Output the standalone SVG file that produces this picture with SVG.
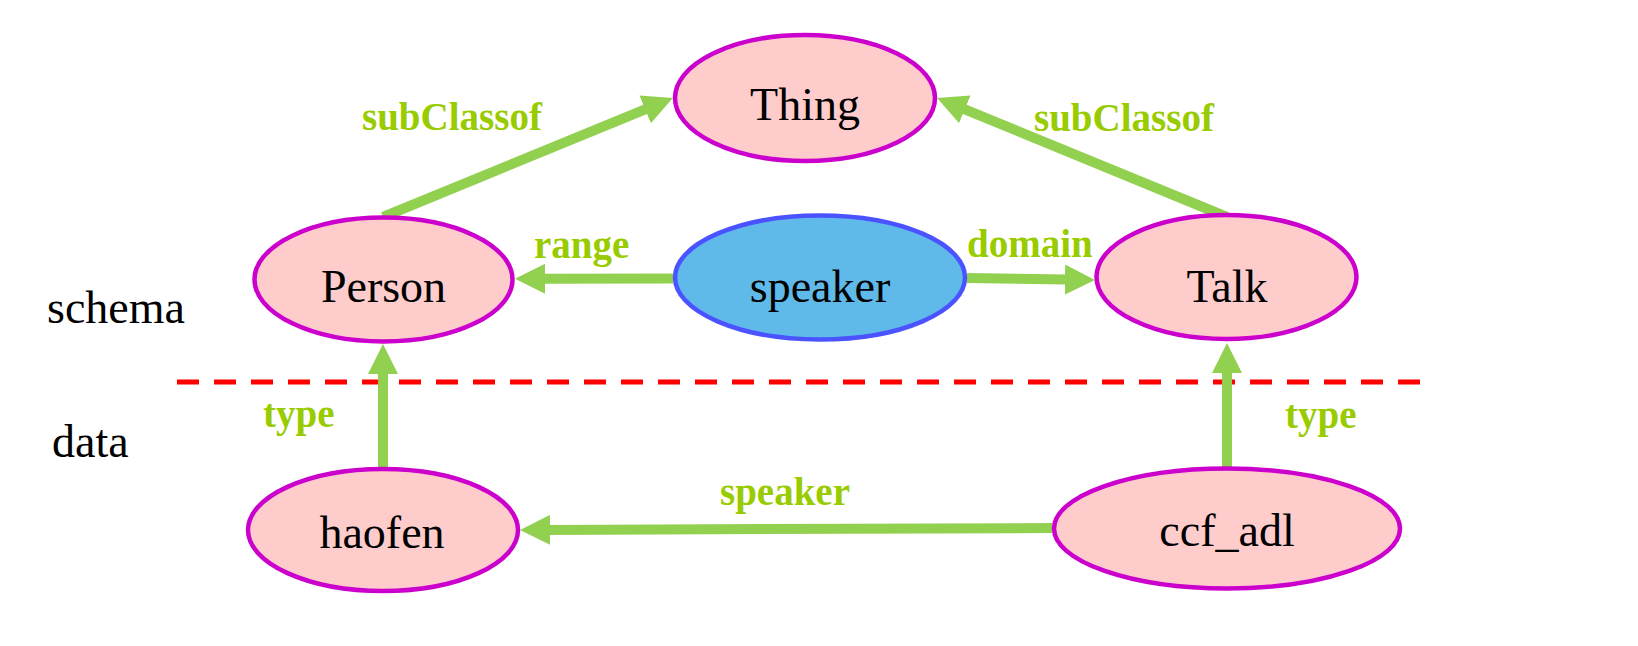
<svg xmlns="http://www.w3.org/2000/svg" width="1638" height="646" viewBox="0 0 1638 646">
<style>
.node{fill:#FFCCCC;stroke:#CC00CC;stroke-width:4.5}
.prop{fill:#5FBAEA;stroke:#4B52FF;stroke-width:4.5}
.nt{font-family:"Liberation Serif","Times New Roman",serif;font-size:46px;fill:#000;text-anchor:middle}
.side{font-family:"Liberation Serif","Times New Roman",serif;font-size:46px;fill:#000}
.lbl{font-family:"Liberation Serif","Times New Roman",serif;font-size:39px;font-weight:bold;fill:#99CC00}
.edge{stroke:#92D050;stroke-width:10;fill:none;marker-end:url(#ah)}
</style>
<defs>
<marker id="ah" markerUnits="userSpaceOnUse" markerWidth="30" markerHeight="30" refX="2" refY="15" orient="auto" viewBox="0 0 30 30">
<path d="M0,0 L30,15 L0,30 Z" fill="#92D050"/>
</marker>
</defs>
<rect width="1638" height="646" fill="#FFFFFF"/>
<line x1="177" y1="382" x2="1425" y2="382" stroke="#FF0000" stroke-width="5" stroke-dasharray="22 15"/>
<text class="side" x="47" y="323">schema</text>
<text class="side" x="52" y="457">data</text>
<g id="connectors">
<line class="edge" x1="383" y1="217" x2="647" y2="108.6"/>
<line class="edge" x1="1227" y1="217" x2="963" y2="108.6"/>
<line class="edge" x1="673" y1="278.5" x2="543" y2="278.8"/>
<line class="edge" x1="967" y1="278" x2="1067" y2="279.6"/>
<line class="edge" x1="383" y1="467" x2="383" y2="372"/>
<line class="edge" x1="1227" y1="467" x2="1227" y2="371"/>
<line class="edge" x1="1052" y1="528" x2="548" y2="529.9"/>
<text class="lbl" x="362" y="130">subClassof</text>
<text class="lbl" x="1034" y="131">subClassof</text>
<text class="lbl" x="534" y="258">range</text>
<text class="lbl" x="967" y="257">domain</text>
<text class="lbl" x="263" y="427">type</text>
<text class="lbl" x="1285" y="428">type</text>
<text class="lbl" x="720" y="505">speaker</text>
</g>
<g id="thing">
<ellipse class="node" cx="805" cy="98" rx="130" ry="63"/>
<text class="nt" x="805" y="120">Thing</text>
</g>
<g id="person">
<ellipse class="node" cx="383.5" cy="279.5" rx="129" ry="62"/>
<text class="nt" x="383.5" y="302">Person</text>
</g>
<g id="speaker">
<ellipse class="prop" cx="820" cy="277.5" rx="145" ry="62"/>
<text class="nt" x="820" y="302">speaker</text>
</g>
<g id="talk">
<ellipse class="node" cx="1226.5" cy="277" rx="130" ry="62"/>
<text class="nt" x="1227" y="302">Talk</text>
</g>
<g id="haofen">
<ellipse class="node" cx="383" cy="530" rx="135" ry="61"/>
<text class="nt" x="382" y="548">haofen</text>
</g>
<g id="ccf_adl">
<ellipse class="node" cx="1227" cy="528.5" rx="173" ry="60"/>
<text class="nt" x="1227" y="546">ccf_adl</text>
</g>
</svg>
